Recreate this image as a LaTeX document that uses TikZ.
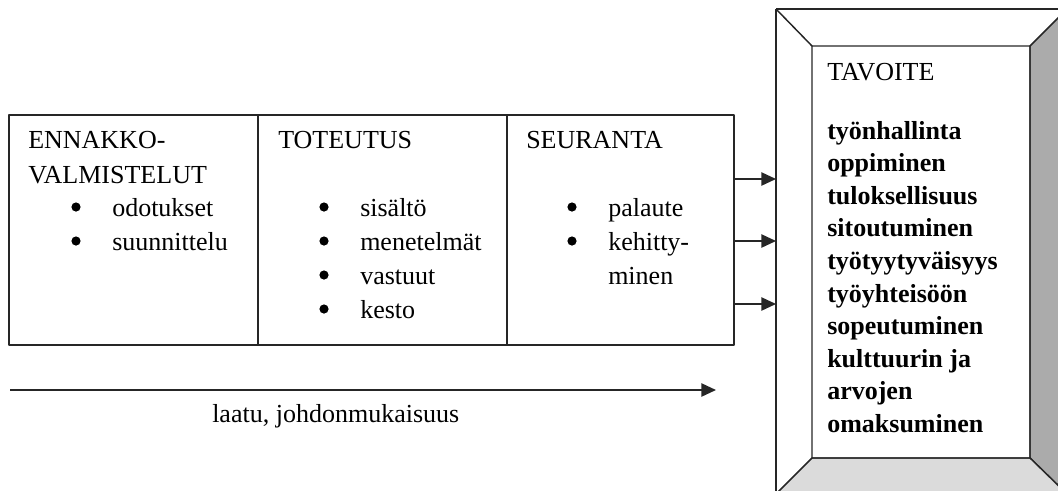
\documentclass[tikz,border=0pt]{standalone}
\usepackage{fontspec}
\setmainfont{Liberation Serif}
\usetikzlibrary{arrows.meta}

\definecolor{edge}{gray}{0.15}
\definecolor{sidegray}{gray}{0.67}
\definecolor{floorgray}{gray}{0.86}

\tikzset{
  txt/.style={anchor=base west,inner sep=0pt,font=\fontsize{19.5}{24}\selectfont},
  goaltxt/.style={txt,font=\fontsize{19.5}{24}\selectfont\bfseries},
  flow/.style={draw=edge,line width=1.1pt,-{Triangle[length=11pt,width=10pt]}},
}

\begin{document}
\begin{tikzpicture}[x=0.75pt,y=-0.75pt,line join=round]
	\useasboundingbox (0,0) rectangle (1058,490) ;
	% goal frame, partly cut off by the page
	\begin{scope}
		\clip (0,0) rectangle (1058,490) ;
		\coordinate (O1) at (776,9) ; \coordinate (O2) at (1067,9) ;
		\coordinate (O3) at (1067,494) ; \coordinate (O4) at (776,494) ;
		\coordinate (I1) at (812,46) ; \coordinate (I2) at (1030,46) ;
		\coordinate (I3) at (1030,458) ; \coordinate (I4) at (812,458) ;
		\filldraw[draw=edge,line width=1.1pt,fill=sidegray] (I2) -- (O2) -- (O3) -- (I3) -- cycle ;
		\filldraw[draw=edge,line width=1.1pt,fill=floorgray] (I4) -- (I3) -- (O3) -- (O4) -- cycle ;
		\draw[edge,line width=1.1pt] (O1) -- (O2) (O1) -- (O4) ;
		\draw[edge,line width=1.1pt] (O1) -- (I1) (I1) rectangle (I3) ;
	\end{scope}
	% the three phases
	\coordinate (P1) at (9,115) ; \coordinate (P2) at (734,345) ;
	\draw[edge,line width=1.1pt] (P1) rectangle (P2) ;
	\draw[edge,line width=1.1pt] (258,115) -- (258,345) (507,115) -- (507,345) ;
	\node[txt] (ennakko) at (28,148) {ENNAKKO-} ;
	\node[txt] (valm) at (28,183) {VALMISTELUT} ;
	\node[txt] (toteutus) at (278,148) {TOTEUTUS} ;
	\node[txt] (seuranta) at (526,148) {SEURANTA} ;
	\foreach \Name/\Text/\X/\Y/\Dot in {odot/odotukset/112/216/1,suun/suunnittelu/112/250/1,
		sis/sisältö/360/216/1,men/menetelmät/360/250/1,vast/vastuut/360/284/1,kesto/kesto/360/318/1,
		pal/palaute/608/216/1,keh/kehitty-/608/250/1,min/minen/608/284/0}
		{\node[txt] (\Name) at (\X,\Y) {\Text} ;
		 \ifnum\Dot=1 \fill (\X-36,\Y-9) circle[radius=4.6] ; \fi}
	% arrows into the goal
	\foreach \i/\Y in {1/179,2/241,3/304} {
		\coordinate (out\i) at (734,\Y) ; \coordinate (in\i) at (776,\Y) ;
		\draw[flow] (out\i) -- (in\i) ;}
	% goal texts
	\node[txt] (tavoite) at (827,80) {TAVOITE} ;
	\foreach \Text [count=\k from 0] in {työnhallinta,oppiminen,tuloksellisuus,sitoutuminen,
		työtyytyväisyys,työyhteisöön,sopeutuminen,kulttuurin ja,arvojen,omaksuminen}
		\node[goaltxt] (goal\k) at (827,139+32.6*\k) {\Text} ;
	% quality axis
	\coordinate (L) at (10,390) ; \coordinate (R) at (716,390) ;
	\draw[flow] (L) -- (R) ;
	\node[txt] (laatu) at (212,422) {laatu, johdonmukaisuus} ;
\end{tikzpicture}
\end{document}
